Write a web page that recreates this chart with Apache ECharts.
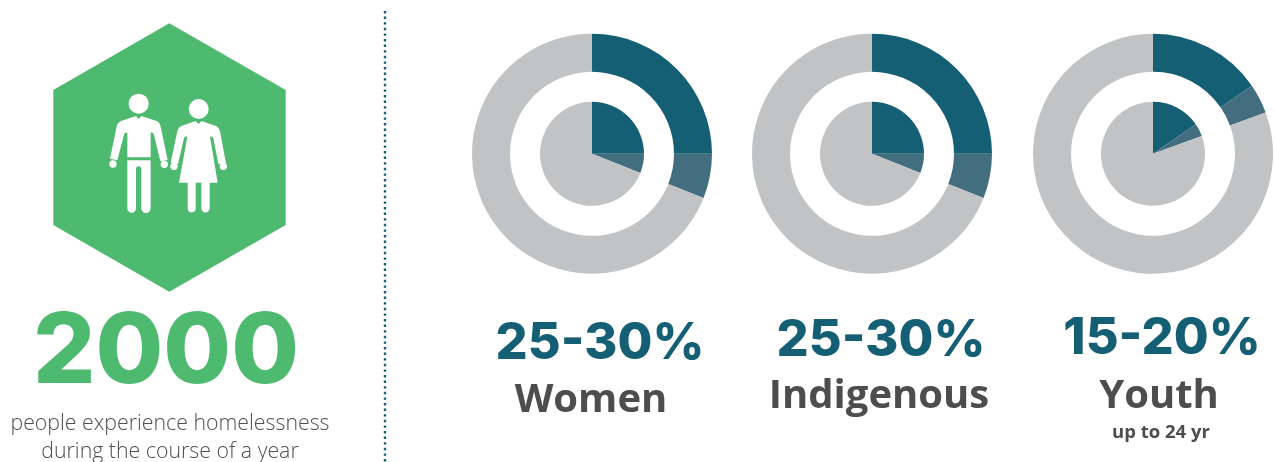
<!DOCTYPE html>
<html>
<head>
<meta charset="utf-8">
<style>
  html, body { margin: 0; padding: 0; background: #fff; }
  #chart { width: 1275px; height: 462px; }
</style>
</head>
<body>
<div id="chart"></div>
<script src="https://cdn.jsdelivr.net/npm/echarts@6/dist/echarts.min.js"></script>
<script>
// share of people, percent: low estimate, extra up to the high estimate, the rest
const categories = ['Women', 'Indigenous', 'Youth']
const lowValues = [25, 25, 15.4]
const rangeValues = [6, 6, 4]
const restValues = [69, 69, 80.6]
const rangeLabels = ['25-30%', '25-30%', '15-20%']
const headline = '2000'
const captionLines = ['people experience homelessness', 'during the course of a year']
const youthNote = 'up to 24 yr'

const dark = '#155f74'
const mid = '#436e80'
const grey = '#c1c3c5'
const green = '#4eba6f'
const textGrey = '#4d4d4d'
const centers = [592, 872, 1153]

const chart = echarts.init(document.getElementById('chart'), null, {renderer: 'canvas'})

function makePie(i, radius) {
  return {
    type: 'pie',
    silent: true,
    animation: false,
    center: [centers[i], 153.8],
    radius: radius,
    startAngle: 90,
    clockwise: true,
    label: {show: false},
    labelLine: {show: false},
    data: [
      {value: lowValues[i], name: categories[i] + ' low', itemStyle: {color: dark}},
      {value: rangeValues[i], name: categories[i] + ' high', itemStyle: {color: mid}},
      {value: restValues[i], name: 'Other', itemStyle: {color: grey}}
    ]
  }
}

let series = []
categories.forEach((c, i) => {
  series.push(makePie(i, [82, 120]))
  series.push(makePie(i, [0, 52]))
})

function makeText(text, x, y, size, weight, color, family) {
  return {
    type: 'text',
    silent: true,
    style: {
      text: text,
      x: x,
      y: y,
      fill: color,
      font: weight + ' ' + size + 'px "' + (family || 'Open Sans') + '"',
      textAlign: 'center',
      textVerticalAlign: 'bottom'
    }
  }
}

// pictogram, traced in 3x crop coordinates and scaled down by the group
const manPath = 'M288 288L296 297L304 288L350 303Q360 308 362 320L383 420L361 424L342 345Q340 336 332 338L332 412L262 412L262 338Q254 336 252 345L232 421L210 416L230 320Q232 308 243 303Z' +
  'M262 421L332 421L332 565A14 14 0 0 1 304 565L304 447A8 8 0 0 0 288 447L288 565A13 13 0 0 1 262 565Z'
const womanPath = 'M467 303L476 312L485 303L528 318Q537 322 540 333L558 430L535 432L520 355Q518 348 510 350L533 488L417 488L442 350Q434 348 432 355L414 432L392 428L412 333Q415 322 424 318Z' +
  'M443 488L467 488L467 565A12 12 0 0 1 443 565Z' +
  'M484 488L509 488L509 565A12.5 12.5 0 0 1 484 565Z'
const hands = [[219, 432], [373, 433], [402, 439], [550, 439]]

echarts.graphic.registerShape('manShape', echarts.graphic.extendPath(manPath))
echarts.graphic.registerShape('womanShape', echarts.graphic.extendPath(womanPath))

const people = {
  type: 'group',
  x: 40,
  y: 20,
  scaleX: 1 / 3,
  scaleY: 1 / 3,
  silent: true,
  children: [
    {type: 'circle', shape: {cx: 296, cy: 251, r: 30}, style: {fill: '#fff'}},
    {type: 'circle', shape: {cx: 476, cy: 267, r: 30}, style: {fill: '#fff'}},
    {type: 'manShape', style: {fill: '#fff'}},
    {type: 'womanShape', style: {fill: '#fff'}}
  ].concat(hands.map(h => ({
    type: 'circle', shape: {cx: h[0], cy: h[1], r: 11}, style: {fill: '#fff'}
  })))
}

const option = {
  backgroundColor: '#fff',
  series: series,
  graphic: [
    {
      type: 'polygon',
      silent: true,
      shape: {points: [[169.3, 23.3], [285.7, 90], [285.7, 225], [169.3, 291.7], [53.3, 225], [53.3, 90]]},
      style: {fill: green}
    },
    people,
    {
      type: 'line',
      silent: true,
      shape: {x1: 385, y1: 11, x2: 385, y2: 462},
      style: {stroke: dark, lineWidth: 2.4, lineDash: [2.4, 3.2]}
    },
    makeText(headline, 166, 403, 98, 800, green, 'Inter'),
    makeText(captionLines[0], 170, 434, 21.3, 300, '#4f4f4f'),
    makeText(captionLines[1], 170, 462, 21.3, 300, '#4f4f4f'),
    makeText(rangeLabels[0], 600, 369, 50.5, 800, dark, 'Inter'),
    makeText(rangeLabels[1], 881, 366, 50.5, 800, dark, 'Inter'),
    makeText(rangeLabels[2], 1162, 364, 50.5, 800, dark, 'Inter'),
    makeText(categories[0], 591, 421, 40, 700, textGrey),
    makeText(categories[1], 879, 417, 40, 700, textGrey),
    makeText(categories[2], 1159, 417, 40, 700, textGrey),
    makeText(youthNote, 1161, 442, 18.5, 700, textGrey)
  ]
}
chart.setOption(option)
</script>
</body>
</html>
